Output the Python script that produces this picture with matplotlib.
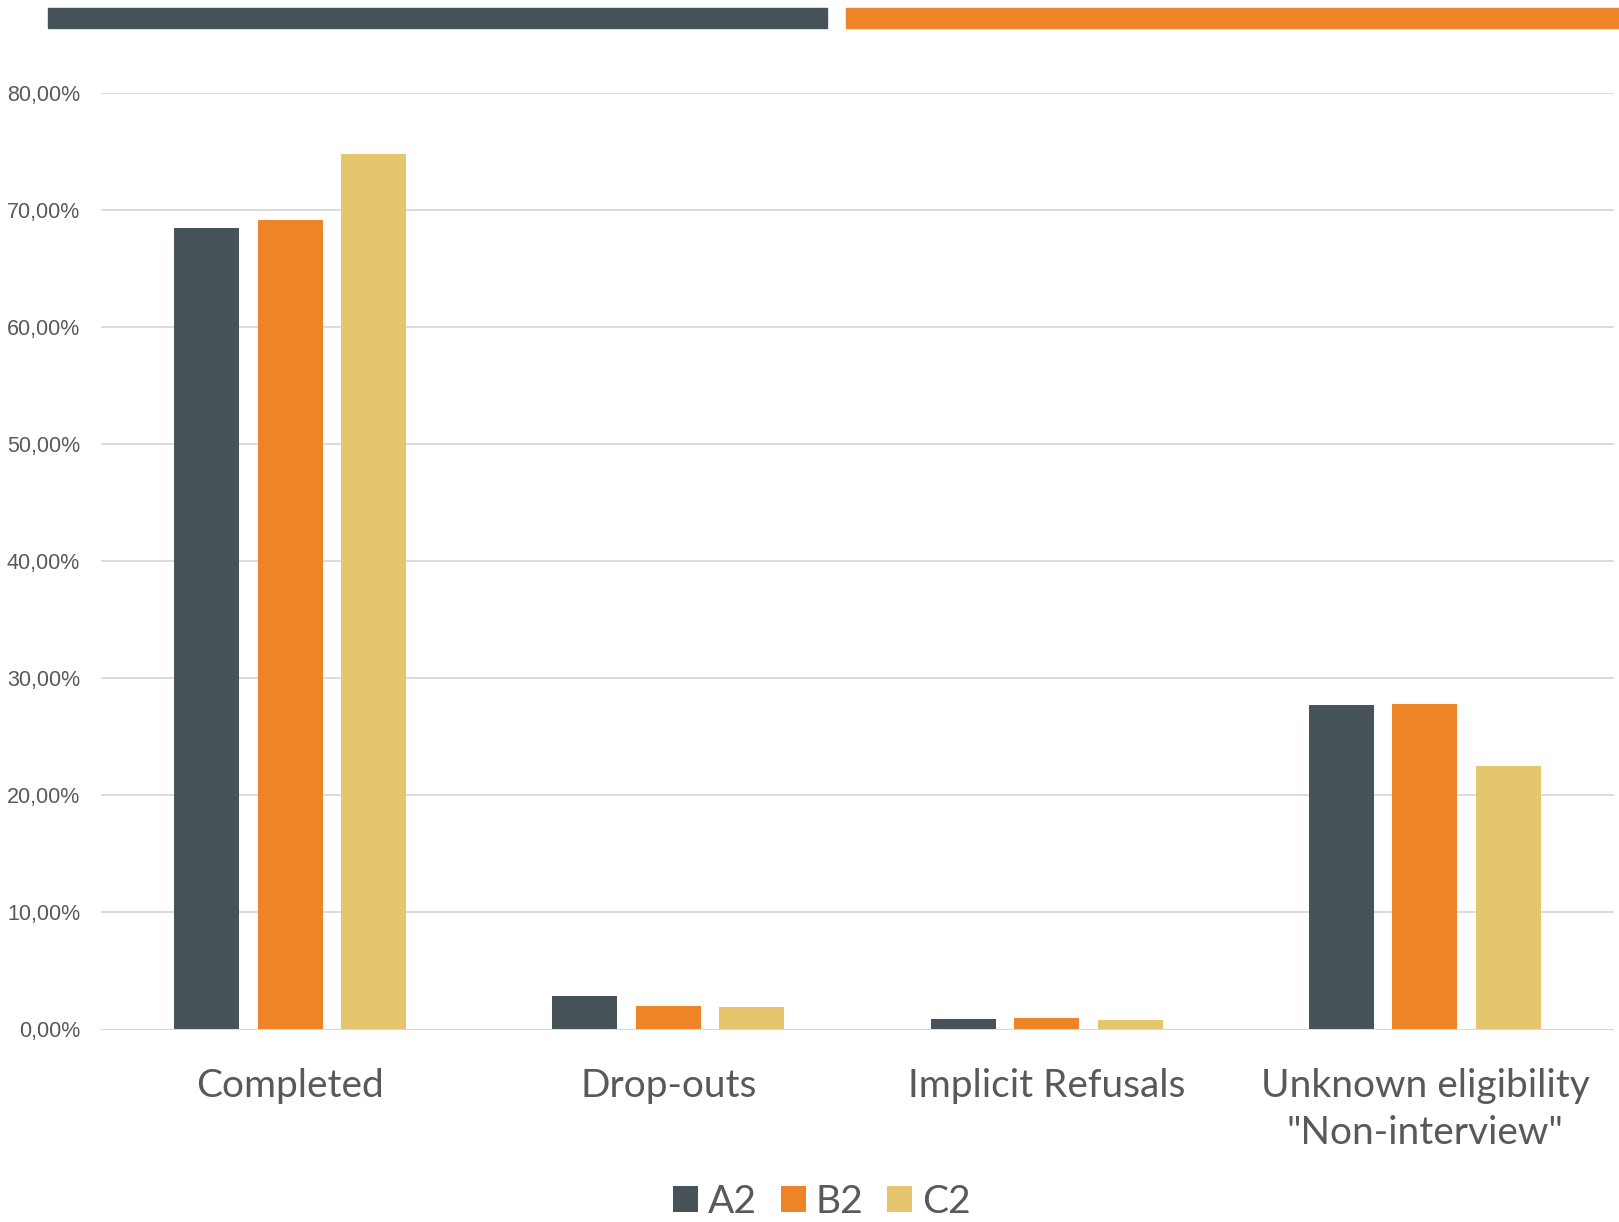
import numpy as np
import matplotlib.pyplot as plt
from matplotlib.patches import Rectangle
from matplotlib.ticker import FuncFormatter

categories = ["Completed", "Drop-outs", "Implicit Refusals",
              "Unknown eligibility\n\"Non-interview\""]
series = ["A2", "B2", "C2"]
a2 = [68.45, 2.85, 0.86, 27.72]
b2 = [69.16, 2.05, 0.97, 27.80]
c2 = [74.80, 1.88, 0.80, 22.50]

colors = ["#465359", "#ED8427", "#E6C56F"]
text_gray = "#595959"
grid_gray = "#D9D9D9"

W, H = 1619, 1222
fig = plt.figure(figsize=(W / 100, H / 100), dpi=100)

# decorative header strips
fig.patches.append(Rectangle((48 / W, 1 - 28 / H), (827 - 48) / W, 20 / H,
                             transform=fig.transFigure, color=colors[0], zorder=0))
fig.patches.append(Rectangle((846 / W, 1 - 28 / H), (W - 846) / W, 20 / H,
                             transform=fig.transFigure, color=colors[1], zorder=0))

ax = fig.add_axes([101 / W, 1 - 1029.5 / H, (1614 - 101) / W, (1029.5 - 93) / H])

x = np.arange(len(categories))
width = 0.172
step = 0.221
for i, (name, vals) in enumerate(zip(series, [a2, b2, c2])):
    ax.bar(x + (i - 1) * step, vals, width, color=colors[i], label=name, zorder=3)

ax.set_xlim(-0.5, len(categories) - 0.5)
ax.set_ylim(0, 80)
ax.set_yticks(np.arange(0, 81, 10))
ax.yaxis.set_major_formatter(FuncFormatter(lambda v, p: f"{v:.2f}%".replace(".", ",")))
ax.grid(axis="y", color=grid_gray, linewidth=1.3, zorder=0)
ax.axhline(0, color=grid_gray, linewidth=2.2, zorder=4)
for s in ax.spines.values():
    s.set_visible(False)
ax.tick_params(axis="y", length=0, pad=15, labelsize=15.5, labelcolor=text_gray)
ax.tick_params(axis="x", length=0, pad=28, labelsize=28, labelcolor=text_gray)
for lbl in ax.get_yticklabels():
    lbl.set_family("Liberation Sans")
ax.set_xticks(x)
ax.set_xticklabels(categories, family="Lato", linespacing=1.36)

leg = fig.legend(loc="center", bbox_to_anchor=(0.5077, 1 - 1202 / H), ncol=3, frameon=False,
                 prop={"family": "Lato", "size": 28}, handlelength=0.64, handleheight=0.64,
                 handletextpad=0.25, columnspacing=0.62, borderpad=0.2)
for t in leg.get_texts():
    t.set_color(text_gray)

fig.savefig("out.png", dpi=100, facecolor="white")
